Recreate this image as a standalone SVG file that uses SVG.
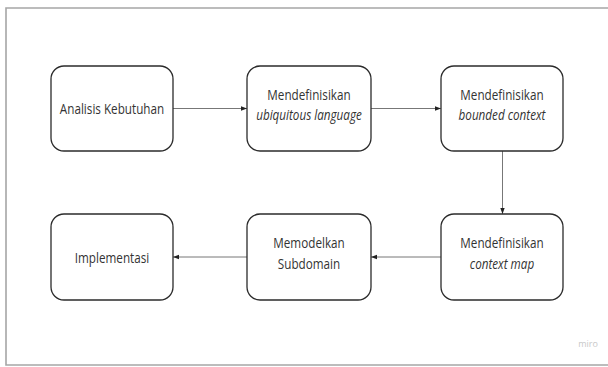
<svg xmlns="http://www.w3.org/2000/svg" width="608" height="367" viewBox="0 0 608 367">
<style>
.box{fill:#fff;stroke:#2b2b2b;stroke-width:1.3}
.t{font-family:"Open Sans","Noto Sans",sans-serif;font-size:15px;fill:#333;text-anchor:middle}
.i{font-style:italic}
.c{stroke:#777;stroke-width:1;fill:none;marker-end:url(#ah)}
</style>
<defs>
<marker id="ah" viewBox="0 0 6 6" refX="6" refY="3" markerWidth="6" markerHeight="6" markerUnits="userSpaceOnUse" orient="auto">
<path d="M0,0.8 L6,3 L0,5.2 Z" fill="#222"/>
</marker>
</defs>
<rect x="0" y="0" width="608" height="367" fill="#fff"/>
<path d="M608,8 H6 V365 H608" fill="none" stroke="#a6a6a6" stroke-width="1.6"/>
<g id="connectors">
<line class="c" x1="173" y1="108.5" x2="247" y2="108.5"/>
<line class="c" x1="371" y1="108.5" x2="441" y2="108.5"/>
<line class="c" x1="502.5" y1="151" x2="502.5" y2="214"/>
<line class="c" x1="441" y1="257" x2="371" y2="257"/>
<line class="c" x1="247" y1="257" x2="173" y2="257"/>
</g>
<g id="n1">
<rect class="box" x="51" y="66" width="122" height="85" rx="13"/>
<text class="t" transform="translate(112,114) scale(0.78,1)">Analisis Kebutuhan</text>
</g>
<g id="n2">
<rect class="box" x="247" y="66" width="124" height="85" rx="13"/>
<text class="t" transform="translate(309,99.5) scale(0.78,1)">Mendefinisikan</text>
<text class="t i" transform="translate(309,120) scale(0.78,1)">ubiquitous language</text>
</g>
<g id="n3">
<rect class="box" x="441" y="66" width="122" height="85" rx="13"/>
<text class="t" transform="translate(502,99.5) scale(0.78,1)">Mendefinisikan</text>
<text class="t i" transform="translate(502,120) scale(0.78,1)">bounded context</text>
</g>
<g id="n4">
<rect class="box" x="441" y="214" width="122" height="86" rx="13"/>
<text class="t" transform="translate(502,248) scale(0.78,1)">Mendefinisikan</text>
<text class="t i" transform="translate(502,268.5) scale(0.78,1)">context map</text>
</g>
<g id="n5">
<rect class="box" x="247" y="214" width="124" height="86" rx="13"/>
<text class="t" transform="translate(309,248) scale(0.78,1)">Memodelkan</text>
<text class="t" transform="translate(309,268.5) scale(0.78,1)">Subdomain</text>
</g>
<g id="n6">
<rect class="box" x="51" y="214" width="122" height="86" rx="13"/>
<text class="t" transform="translate(112,262.5) scale(0.78,1)">Implementasi</text>
</g>
<text x="588" y="347" font-family="'Open Sans','Noto Sans',sans-serif" font-size="9" fill="#c8c8c8" text-anchor="middle">miro</text>
</svg>
